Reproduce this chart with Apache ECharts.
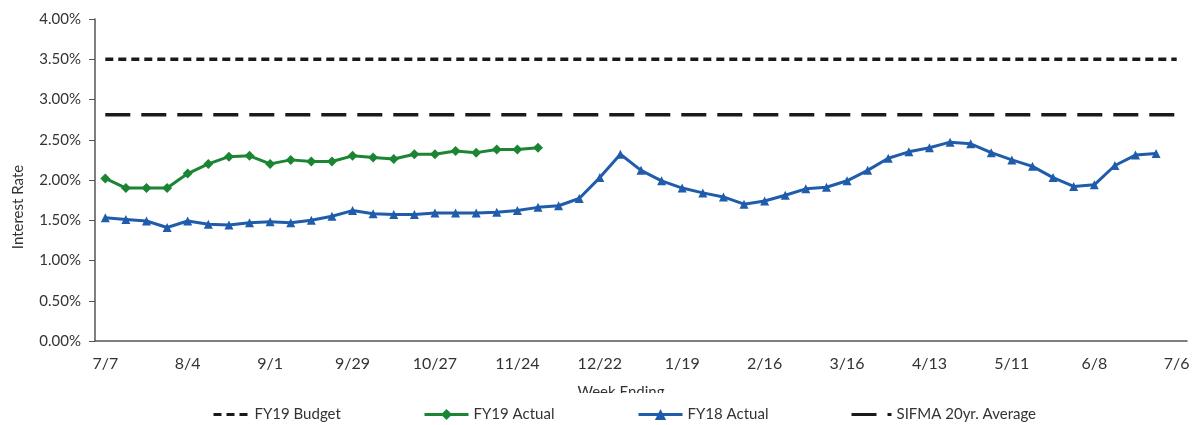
<!DOCTYPE html>
<html lang="en">
<head>
    <meta charset="UTF-8">
    <title>Interest Rate - Week Ending</title>
    <script src="https://cdn.jsdelivr.net/npm/echarts@6/dist/echarts.min.js"></script>
    <style>
        body { margin: 0; background: #ffffff; }
        #chart { width: 1194px; height: 425px; }
    </style>
</head>
<body>
    <div id="chart"></div>
    <script>
        // weekly categories, 7/7 to 7/6
        let weeks = [
            '7/7', '7/14', '7/21', '7/28', '8/4', '8/11', '8/18', '8/25',
            '9/1', '9/8', '9/15', '9/22', '9/29', '10/6', '10/13', '10/20',
            '10/27', '11/3', '11/10', '11/17', '11/24', '12/1', '12/8', '12/15',
            '12/22', '12/29', '1/5', '1/12', '1/19', '1/26', '2/2', '2/9',
            '2/16', '2/23', '3/2', '3/9', '3/16', '3/23', '3/30', '4/6',
            '4/13', '4/20', '4/27', '5/4', '5/11', '5/18', '5/25', '6/1',
            '6/8', '6/15', '6/22', '6/29', '7/6'
        ];

        let fy19Actual = [
            2.02, 1.90, 1.90, 1.90, 2.08, 2.20, 2.29, 2.30, 2.20, 2.25, 2.23,
            2.23, 2.30, 2.28, 2.26, 2.32, 2.32, 2.36, 2.34, 2.38, 2.38, 2.40
        ];

        let fy18Actual = [
            1.53, 1.51, 1.49, 1.41, 1.49, 1.45, 1.44, 1.47, 1.48, 1.47, 1.50,
            1.55, 1.62, 1.58, 1.57, 1.57, 1.59, 1.59, 1.59, 1.60, 1.62, 1.66,
            1.68, 1.77, 2.03, 2.32, 2.12, 1.99, 1.90, 1.84, 1.79, 1.70, 1.74,
            1.81, 1.89, 1.91, 1.99, 2.12, 2.27, 2.35, 2.40, 2.47, 2.45, 2.34,
            2.25, 2.17, 2.03, 1.92, 1.94, 2.18, 2.31, 2.33
        ];

        let fy19Budget = 3.50;
        let sifmaAverage = 2.81;

        let textColor = '#333333';
        let font = 'Lato, "Open Sans", sans-serif';

        function flatLine(v) {
            return [[weeks[0], v], [weeks[weeks.length - 1], v]];
        }

        // dashed series get a plain line in the legend, no marker
        let noMarker = { color: 'rgba(0,0,0,0)', borderWidth: 0 };

        let option = {
            backgroundColor: '#ffffff',
            animation: false,
            textStyle: { fontFamily: font, color: textColor },
            grid: { left: 95, right: 7, top: 19, bottom: 84 },
            legend: [
                { left: 207, top: 402, itemWidth: 36, itemHeight: 14, data: ['FY19 Budget'], itemStyle: noMarker },
                { left: 418, top: 402, itemWidth: 44, itemHeight: 14, data: ['FY19 Actual'] },
                { left: 632, top: 402, itemWidth: 44, itemHeight: 14, data: ['FY18 Actual'] },
                { left: 845, top: 402, itemWidth: 40, itemHeight: 14, data: ['SIFMA 20yr. Average'], itemStyle: noMarker }
            ].map(l => Object.assign(l, {
                itemGap: 4,
                lineStyle: { width: 3 },
                textStyle: { fontFamily: font, fontSize: 15, color: textColor }
            })),
            xAxis: {
                type: 'category',
                data: weeks,
                boundaryGap: true,
                axisLine: { lineStyle: { color: '#555555', width: 1.5 } },
                axisTick: { inside: true, length: 5, interval: 0, lineStyle: { color: '#555555' } },
                axisLabel: { interval: 3, margin: 15, fontSize: 16, color: textColor, fontFamily: font },
                splitLine: { show: false }
            },
            yAxis: {
                type: 'value',
                min: 0,
                max: 4,
                interval: 0.5,
                axisLine: { show: true, lineStyle: { color: '#555555', width: 1.5 } },
                axisTick: { show: true, length: 6, lineStyle: { color: '#555555' } },
                axisLabel: {
                    margin: 14,
                    fontSize: 15,
                    color: textColor,
                    fontFamily: font,
                    formatter: v => v.toFixed(2) + '%'
                },
                splitLine: { show: false }
            },
            graphic: [
                {
                    type: 'text',
                    x: 18,
                    y: 207,
                    rotation: Math.PI / 2,
                    style: {
                        text: 'Interest Rate',
                        fill: textColor,
                        font: '15px ' + font,
                        textAlign: 'center',
                        textVerticalAlign: 'middle'
                    }
                },
                {
                    type: 'text',
                    x: 621,
                    y: 385,
                    style: {
                        text: 'Week Ending',
                        fill: textColor,
                        font: '15px ' + font,
                        textAlign: 'center',
                        textVerticalAlign: 'top'
                    }
                },
                {
                    // the reference shows this title cut off at the bottom
                    type: 'rect',
                    shape: { x: 560, y: 393, width: 130, height: 8 },
                    style: { fill: '#ffffff' },
                    z: 100
                }
            ],
            series: [
                {
                    name: 'FY19 Budget',
                    type: 'line',
                    data: flatLine(fy19Budget),
                    symbol: 'none',
                    lineStyle: { color: '#1a1a1a', width: 3.5, type: [8, 5] },
                    itemStyle: { color: '#1a1a1a' }
                },
                {
                    name: 'FY19 Actual',
                    type: 'line',
                    data: fy19Actual,
                    symbol: 'diamond',
                    symbolSize: 10,
                    lineStyle: { color: '#1b8534', width: 3 },
                    itemStyle: { color: '#1b8534' }
                },
                {
                    name: 'FY18 Actual',
                    type: 'line',
                    data: fy18Actual,
                    symbol: 'triangle',
                    symbolSize: 9,
                    lineStyle: { color: '#1f5cab', width: 3 },
                    itemStyle: { color: '#1f5cab' }
                },
                {
                    name: 'SIFMA 20yr. Average',
                    type: 'line',
                    data: flatLine(sifmaAverage),
                    symbol: 'none',
                    lineStyle: { color: '#1a1a1a', width: 3.5, type: [25, 11] },
                    itemStyle: { color: '#1a1a1a' }
                }
            ]
        };

        let chart = echarts.init(document.getElementById('chart'));
        chart.setOption(option);

        window.addEventListener('resize', function () {
            chart.resize();
        });
    </script>
</body>
</html>
